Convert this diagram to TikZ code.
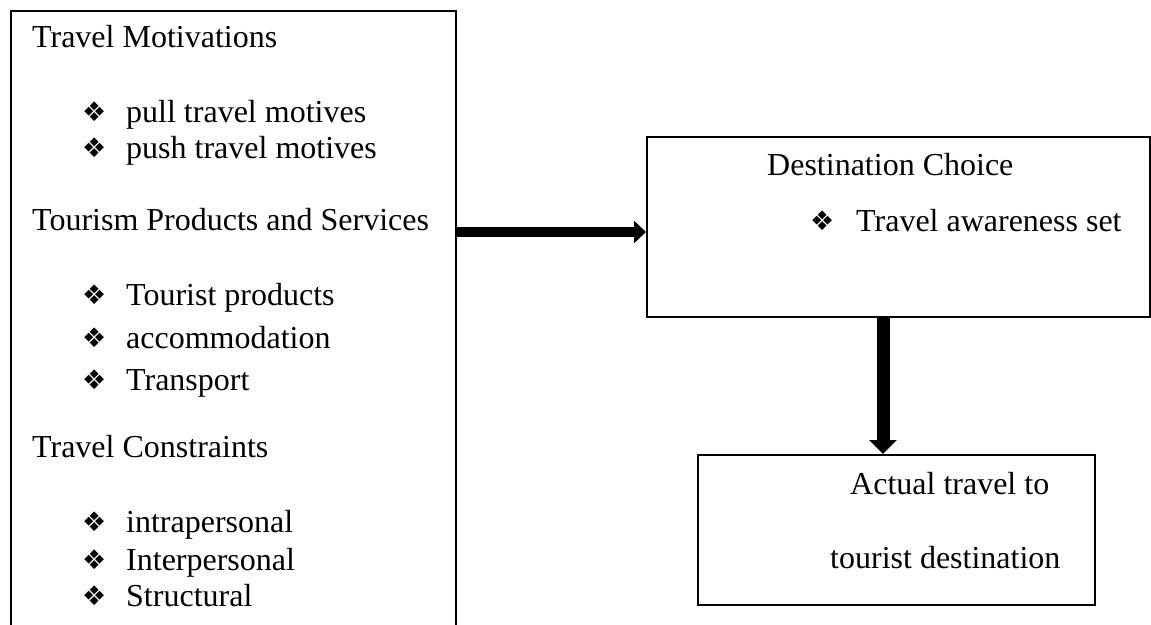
\documentclass[tikz,border=0pt]{standalone}
\usepackage{fontspec}
\setmainfont{Liberation Serif}
\newfontfamily\djfont{DejaVu Sans}
\usetikzlibrary{arrows.meta,calc}
\tikzset{
  boxnode/.style={draw=black, line width=2.4pt, minimum width=#1, inner sep=0pt, anchor=north west},
  txt/.style={anchor=base west, inner sep=0pt, font=\fontsize{32}{36}\selectfont},
  bul/.style={anchor=west, inner sep=0pt, font=\djfont\fontsize{27}{27}\selectfont},
  fatarrow/.style={line width=#1, -{Triangle[length=12pt,width=22pt]}},
}
\begin{document}
\begin{tikzpicture}[x=1pt,y=-1pt]
\useasboundingbox (0,0) rectangle (1151,624);
\clip (0,0) rectangle (1151,624);
% boxes
\node[boxnode=445pt, minimum height=640pt] (left) at (10,10) {};
\node[boxnode=503pt, minimum height=180pt] (dest) at (646,136) {};
\node[boxnode=397pt, minimum height=150pt] (act) at (697,454) {};
% left box texts
\node[txt] (t1) at (32,47) {Travel Motivations};
\node[bul] (b1) at (82,112) {❖};
\node[txt] (t1a) at (126,122) {pull travel motives};
\node[bul] (b2) at (82,148) {❖};
\node[txt] (t1b) at (126,158) {push travel motives};
\node[txt] (t2) at (32,230) {Tourism Products and Services};
\node[bul] (b3) at (82,295) {❖};
\node[txt] (t2a) at (126,305) {Tourist products};
\node[bul] (b4) at (82,338) {❖};
\node[txt] (t2b) at (126,348) {accommodation};
\node[bul] (b5) at (82,380) {❖};
\node[txt] (t2c) at (126,390) {Transport};
\node[txt] (t3) at (32,457) {Travel Constraints};
\node[bul] (b6) at (82,522) {❖};
\node[txt] (t3a) at (126,532) {intrapersonal};
\node[bul] (b7) at (82,560) {❖};
\node[txt] (t3b) at (126,570) {Interpersonal};
\node[bul] (b8) at (82,596) {❖};
\node[txt] (t3c) at (126,606) {Structural};
% destination box
\node[txt] (d1) at (767,175) {Destination Choice};
\node[bul] (b9) at (810,221) {❖};
\node[txt] (d2) at (856,231) {Travel awareness set};
% actual travel box
\node[txt] (a1) at (850,494) {Actual travel to};
\node[txt] (a2) at (830,568) {tourist destination};
% arrows
\coordinate (hy) at (0,232);
\coordinate (vx) at (883,0);
\draw[fatarrow=10pt] (left.east |- hy) -- (dest.west |- hy);
\draw[fatarrow=13pt, -{Triangle[length=14pt,width=27pt]}] (dest.south -| vx) -- (act.north -| vx);
\end{tikzpicture}
\end{document}
